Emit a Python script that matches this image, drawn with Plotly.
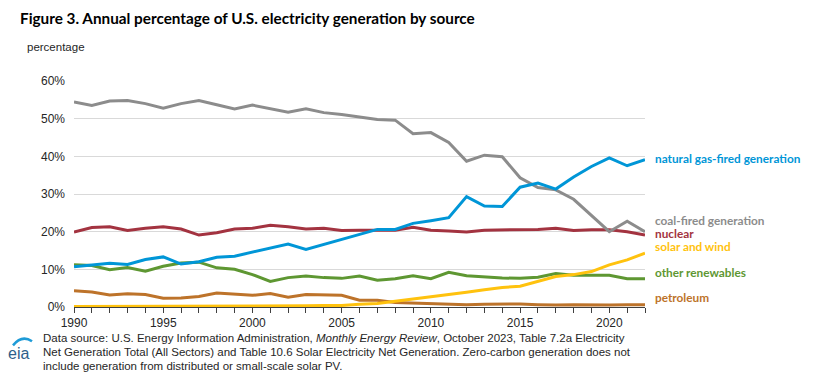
import plotly.graph_objects as go

years = list(range(1990, 2023))

coal = [54.4, 53.5, 54.7, 54.8, 54.0, 52.8, 54.0, 54.8, 53.7, 52.6, 53.6, 52.7, 51.7, 52.6, 51.6, 51.1,
        50.5, 49.8, 49.6, 46.0, 46.3, 43.7, 38.7, 40.3, 39.9, 34.3, 31.7, 31.1, 28.6, 24.4, 20.0, 22.8, 20.0]
gas = [10.7, 11.1, 11.6, 11.3, 12.6, 13.3, 11.4, 12.0, 13.2, 13.5, 14.5, 15.7, 16.7, 15.3, 16.6, 17.8,
       19.1, 20.6, 20.6, 22.2, 22.9, 23.7, 29.3, 26.8, 26.7, 31.8, 32.9, 31.3, 34.5, 37.3, 39.6, 37.5, 39.1]
nuclear = [19.9, 21.1, 21.3, 20.3, 20.9, 21.3, 20.7, 19.1, 19.7, 20.7, 20.9, 21.7, 21.3, 20.7, 20.9, 20.3,
           20.4, 20.4, 20.4, 21.2, 20.4, 20.2, 19.9, 20.4, 20.4, 20.4, 20.6, 20.9, 20.3, 20.5, 20.5, 20.0, 19.1]
other_ren = [11.2, 11.0, 9.9, 10.5, 9.5, 10.8, 11.7, 11.9, 10.4, 10.0, 8.6, 6.8, 7.8, 8.2, 7.8, 7.6,
             8.2, 7.1, 7.5, 8.3, 7.5, 9.2, 8.3, 7.9, 7.7, 7.6, 7.9, 8.9, 8.4, 8.4, 8.4, 7.5, 7.5]
petroleum = [4.3, 4.0, 3.2, 3.5, 3.3, 2.3, 2.4, 2.8, 3.7, 3.4, 3.1, 3.6, 2.6, 3.3, 3.3, 3.1,
             1.8, 1.8, 1.2, 1.0, 1.0, 0.8, 0.6, 0.7, 0.8, 0.8, 0.6, 0.5, 0.6, 0.5, 0.5, 0.6, 0.6]
solar_wind = [0.1, 0.1, 0.1, 0.1, 0.1, 0.1, 0.1, 0.1, 0.1, 0.1, 0.2, 0.2, 0.3, 0.3, 0.4, 0.4,
              0.7, 0.9, 1.5, 2.1, 2.6, 3.2, 3.9, 4.6, 5.2, 5.5, 6.8, 8.1, 8.6, 9.4, 11.2, 12.5, 14.3]

series_names = ["other renewables", "petroleum", "nuclear", "coal-fired generation",
                "natural gas-fired generation", "solar and wind"]
series_values = [other_ren, petroleum, nuclear, coal, gas, solar_wind]
series_colors = ["#5E9732", "#BD732A", "#A33340", "#8C8C8C", "#0096D7", "#FFC20E"]

x_tick_vals = [1990, 1995, 2000, 2005, 2010, 2015, 2020]
y_tick_vals = [0, 10, 20, 30, 40, 50, 60]
y_tick_text = ["0%", "10%", "20%", "30%", "40%", "50%", "60%"]

# page has an 8px body margin; figure geometry in figure pixels
W, H = 806, 376
PL, PR, PT, PB = 66, 637, 73, 298.7
PW, PH = PR - PL, PB - PT


def px(xp):  # window pixel -> paper x
    return (xp - 8 - PL) / PW


def py(yp):  # window pixel -> paper y
    return 1 - (yp - 8 - PT) / PH


label_y = {"natural gas-fired generation": 158, "coal-fired generation": 220.5, "nuclear": 233.5,
           "solar and wind": 246.5, "other renewables": 272, "petroleum": 297}

fig = go.Figure()
for name, vals, color in zip(series_names, series_values, series_colors):
    fig.add_trace(go.Scatter(x=years, y=vals, mode="lines", name=name,
                             line=dict(color=color, width=3), cliponaxis=False,
                             hoverinfo="skip"))

annotations = []
for name, color in zip(series_names, series_colors):
    annotations.append(dict(xref="paper", x=px(654), yref="paper", y=py(label_y[name]),
                            xanchor="left", yanchor="middle", text="<b>" + name + "</b>",
                            showarrow=False, borderpad=0,
                            font=dict(family="Lato", size=11.8, color=color)))

annotations.append(dict(xref="paper", yref="paper", x=px(18), y=py(18), xanchor="left",
                        yanchor="middle",
                        text="<b>Figure 3. Annual percentage of U.S. electricity generation by source</b>",
                        showarrow=False, font=dict(family="Lato", size=15.3, color="#000000")))
annotations.append(dict(xref="paper", yref="paper", x=px(25), y=py(47), xanchor="left",
                        yanchor="middle", text="percentage", showarrow=False,
                        font=dict(family="Liberation Sans", size=11.5, color="#262626")))

footer = [
    "Data source: U.S. Energy Information Administration, <i>Monthly Energy Review</i>, October 2023, Table 7.2a Electricity",
    "Net Generation Total (All Sectors) and Table 10.6 Solar Electricity Net Generation. Zero-carbon generation does not",
    "include generation from distributed or small-scale solar PV.",
]
for i, line in enumerate(footer):
    annotations.append(dict(xref="paper", yref="paper", x=px(42), y=py(338 + 14 * i),
                            xanchor="left", yanchor="middle", text=line, showarrow=False,
                            borderpad=0,
                            font=dict(family="Liberation Sans", size=11.5, color="#262626")))

annotations.append(dict(xref="paper", yref="paper", x=px(6), y=py(353), xanchor="left",
                        yanchor="middle", text="eia", showarrow=False,
                        font=dict(family="Liberation Sans", size=16, color="#2F5F8A")))

arc = "M {} {} Q {} {} {} {}".format(px(13), py(345), px(22), py(334), px(32), py(341))

fig.update_layout(
    width=W, height=H,
    margin=dict(l=PL, r=W - PR, t=PT, b=H - PB),
    paper_bgcolor="white", plot_bgcolor="white",
    showlegend=False,
    annotations=annotations,
    shapes=[dict(type="path", xref="paper", yref="paper", path=arc,
                 line=dict(color="#1E9BD7", width=2.5))],
    xaxis=dict(range=[1990, 2022], tickvals=x_tick_vals, ticks="outside", ticklen=5,
               tickcolor="#404040", tickwidth=1, showgrid=False, showline=True,
               linecolor="#404040", linewidth=1, zeroline=False,
               minor=dict(dtick=1, ticks="outside", ticklen=5, tickcolor="#404040", showgrid=False),
               tickfont=dict(family="Liberation Sans", size=12, color="#262626")),
    yaxis=dict(range=[0, 60], tickvals=y_tick_vals, ticktext=y_tick_text, showgrid=True,
               gridcolor="#D9D9D9", gridwidth=1, zeroline=False, showline=False,
               ticks="", ticklabelstandoff=8,
               tickfont=dict(family="Liberation Sans", size=12, color="#262626")),
)

fig.write_html("out.html")
